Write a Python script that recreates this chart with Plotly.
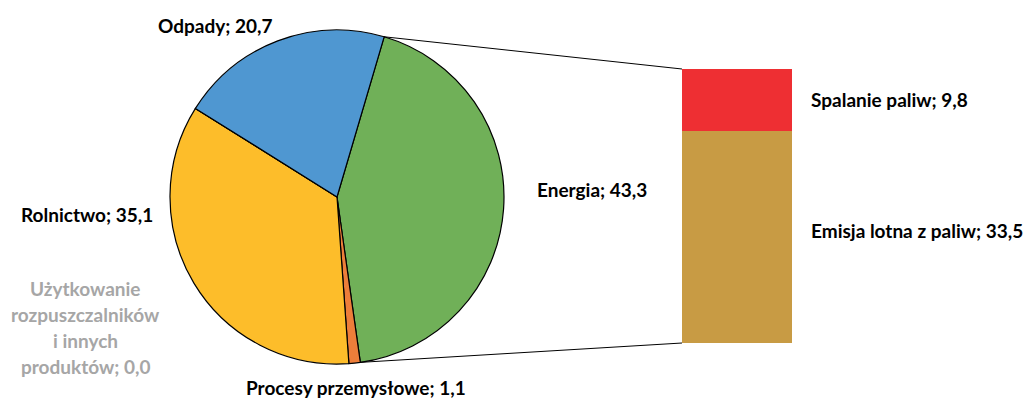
import math
import plotly.graph_objects as go

# Emission shares by sector (pie) and breakdown of the energy sector (bar)
sectors = ["Energia", "Procesy przemysłowe", "Rolnictwo",
           "Użytkowanie rozpuszczalników i innych produktów", "Odpady"]
sector_values = [43.3, 1.1, 35.1, 0.0, 20.7]
sector_colors = ["#70B058", "#ED7E3A", "#FDBD2A", "#A6A6A6", "#4F97D1"]

energy_parts = ["Emisja lotna z paliw", "Spalanie paliw"]
energy_values = [33.5, 9.8]
energy_colors = ["#C89B44", "#EE2F33"]

W, H = 1027, 399
FONT = "Lato"
FONT_SIZE = 19
LINE_STEP = 26
ROTATION = 16.4  # degrees clockwise from 12 o'clock where the first slice starts


def fmt(v):
    return f"{v:.1f}".replace(".", ",")


# pie placement (pixels)
pie_left, pie_right, pie_top, pie_bottom = 170, 504, 30, 364
cx, cy = (pie_left + pie_right) / 2, (pie_top + pie_bottom) / 2
r = (pie_right - pie_left) / 2

# bar placement (pixels)
bar_left, bar_right, bar_top, bar_bottom = 682, 792, 69, 343

fig = go.Figure()

fig.add_trace(go.Pie(
    labels=sectors,
    values=sector_values,
    sort=False,
    direction="clockwise",
    rotation=ROTATION,
    marker=dict(colors=sector_colors, line=dict(color="black", width=1.2)),
    textinfo="none",
    hoverinfo="label+value",
    showlegend=False,
    domain=dict(x=[pie_left / W, pie_right / W],
                y=[(H - pie_bottom) / H, (H - pie_top) / H]),
))

for name, val, col in zip(energy_parts, energy_values, energy_colors):
    fig.add_trace(go.Bar(
        x=["Energia"], y=[val], name=name, width=1,
        marker=dict(color=col, line=dict(width=0)),
        showlegend=False, xaxis="x", yaxis="y",
    ))

energy_total = sector_values[0]
fig.update_layout(
    width=W, height=H,
    margin=dict(l=0, r=0, t=0, b=0),
    paper_bgcolor="white", plot_bgcolor="white",
    barmode="stack",
    xaxis=dict(domain=[bar_left / W, bar_right / W], range=[-0.5, 0.5],
               visible=False, fixedrange=True),
    yaxis=dict(domain=[(H - bar_bottom) / H, (H - bar_top) / H],
               range=[0, sum(energy_values)], visible=False, fixedrange=True),
)

# connector lines from the energy slice edges to the bar corners
total = sum(sector_values)
a_start = math.radians(ROTATION)
a_end = math.radians(ROTATION + 360 * energy_total / total)


def pie_point(a):
    return cx + r * math.sin(a), cy - r * math.cos(a)


for a, by in ((a_start, bar_top), (a_end, bar_bottom)):
    px, py = pie_point(a)
    fig.add_shape(type="line", xref="paper", yref="paper",
                  x0=px / W, y0=(H - py) / H, x1=bar_left / W, y1=(H - by) / H,
                  line=dict(color="black", width=1))


def label(lines, x, y, color="black", xanchor="center"):
    # one annotation per line, the block centred vertically on y
    y0 = y - LINE_STEP * (len(lines) - 1) / 2
    for i, ln in enumerate(lines):
        fig.add_annotation(text=f"<b>{ln}</b>", x=x / W, y=(H - (y0 + i * LINE_STEP)) / H,
                           xref="paper", yref="paper", showarrow=False,
                           xanchor=xanchor, yanchor="middle",
                           font=dict(family=FONT, size=FONT_SIZE, color=color))


label([f"{sectors[4]}; {fmt(sector_values[4])}"], 215, 25)
label([f"{sectors[2]}; {fmt(sector_values[2])}"], 87, 214)
label(["Użytkowanie", "rozpuszczalników", "i innych", f"produktów; {fmt(sector_values[3])}"],
      85, 327, color="#A6A6A6")
label([f"{sectors[1]}; {fmt(sector_values[1])}"], 356, 387)
label([f"{sectors[0]}; {fmt(sector_values[0])}"], 592, 189)
label([f"{energy_parts[1]}; {fmt(energy_values[1])}"], 809, 99, xanchor="left")
label([f"{energy_parts[0]}; {fmt(energy_values[0])}"], 809, 230, xanchor="left")

fig.write_html("out.html")
